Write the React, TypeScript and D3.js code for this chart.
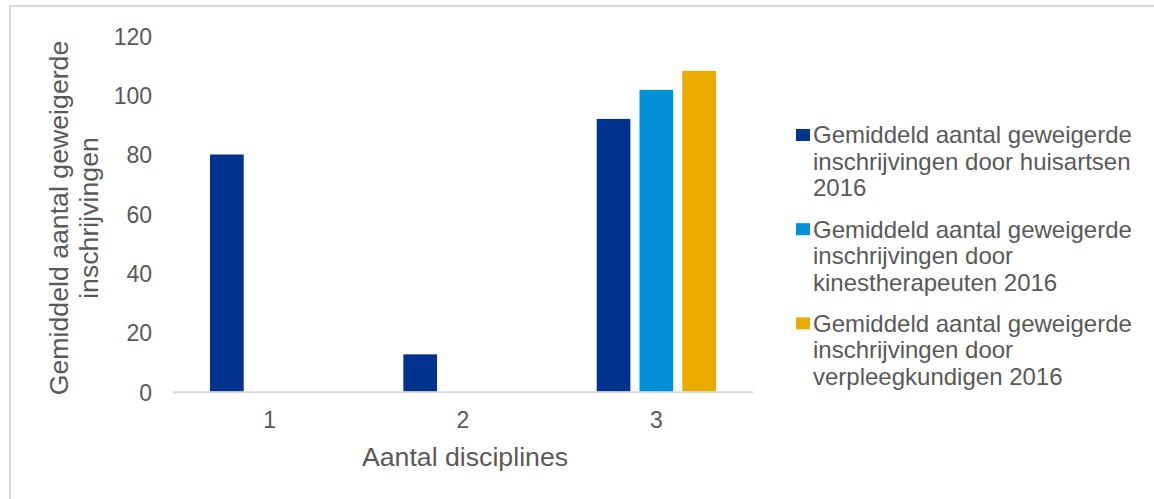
import React from "react";
import * as d3 from "d3";

const categories = ["1", "2", "3"];
const huisartsen: (number | null)[] = [80, 12.6, 92];
const kinesitherapeuten: (number | null)[] = [null, null, 101.8];
const verpleegkundigen: (number | null)[] = [null, null, 108.2];
const yTicks = [0, 20, 40, 60, 80, 100, 120];

const seriesNames = [
  ["Gemiddeld aantal geweigerde", "inschrijvingen door huisartsen", "2016"],
  ["Gemiddeld aantal geweigerde", "inschrijvingen door", "kinestherapeuten 2016"],
  ["Gemiddeld aantal geweigerde", "inschrijvingen door", "verpleegkundigen 2016"],
];
const seriesColors = ["#00338D", "#0091DA", "#EAAA00"];
const seriesValues = [huisartsen, kinesitherapeuten, verpleegkundigen];

const FONT = "'Liberation Sans', Arial, sans-serif";
const TEXT = "#595959";

export default function App() {
  const W = 1154;
  const H = 499;
  const plot = { left: 173, right: 753, top: 35.9, bottom: 391.7 };

  const x0 = d3
    .scaleBand<string>()
    .domain(categories)
    .range([plot.left, plot.right])
    .paddingInner(0.383)
    .paddingOuter(0.1915);
  const x1 = d3
    .scaleBand<number>()
    .domain([0, 1, 2])
    .range([0, x0.bandwidth()])
    .paddingInner(0.213)
    .paddingOuter(0);
  const y = d3.scaleLinear().domain([0, 120]).range([plot.bottom, plot.top]);

  const bars: React.ReactNode[] = [];
  seriesValues.forEach((vals, si) => {
    vals.forEach((v, ci) => {
      if (v == null) return;
      const xb = (x0(categories[ci]) ?? 0) + (x1(si) ?? 0);
      bars.push(
        <rect
          key={`b${si}-${ci}`}
          x={xb}
          y={y(v)}
          width={x1.bandwidth()}
          height={y(0) - y(v)}
          fill={seriesColors[si]}
        />
      );
    });
  });

  const legendX = 796;
  const legendTextX = 813;
  const legendTop = 143.3;
  const groupGap = 94.2;
  const lineH = 26.5;

  return (
    <svg
      width={W}
      height={H}
      style={{ position: "absolute", left: 0, top: 0, background: "#fff" }}
      fontFamily={FONT}
    >
      <rect x={0} y={0} width={W} height={H} fill="#fff" />
      <rect
        x={10}
        y={6}
        width={W + 50}
        height={H + 50}
        fill="none"
        stroke="#d9d9d9"
        strokeWidth={2}
      />
      {/* y tick labels */}
      {yTicks.map((t) => (
        <text
          key={`yt${t}`}
          x={152}
          y={y(t) + 0.8}
          textAnchor="end"
          dominantBaseline="central"
          fontSize={23}
          fill={TEXT}
        >
          {t}
        </text>
      ))}
      {bars}
      {/* x axis line */}
      <line
        x1={plot.left}
        x2={plot.right}
        y1={y(0) + 0.5}
        y2={y(0) + 0.5}
        stroke="#d9d9d9"
        strokeWidth={2}
      />
      {/* x tick labels */}
      {categories.map((c) => (
        <text
          key={`xt${c}`}
          x={(x0(c) ?? 0) + x0.bandwidth() / 2}
          y={428}
          textAnchor="middle"
          fontSize={23}
          fill={TEXT}
        >
          {c}
        </text>
      ))}
      {/* x axis title */}
      <text
        x={(plot.left + plot.right) / 2 + 2}
        y={466}
        textAnchor="middle"
        fontSize={26.7}
        fill={TEXT}
      >
        Aantal disciplines
      </text>
      {/* y axis title */}
      <g transform="translate(68,218) rotate(-90)">
        <text x={0} y={0} textAnchor="middle" fontSize={26.7} fill={TEXT}>
          Gemiddeld aantal geweigerde
        </text>
      </g>
      <g transform="translate(97.5,218) rotate(-90)">
        <text x={0} y={0} textAnchor="middle" fontSize={26.7} fill={TEXT}>
          inschrijvingen
        </text>
      </g>
      {/* legend */}
      {seriesNames.map((lines, si) => {
        const base = legendTop + si * groupGap;
        return (
          <g key={`lg${si}`}>
            <rect
              x={legendX}
              y={base - 14.3}
              width={14}
              height={12}
              fill={seriesColors[si]}
            />
            {lines.map((ln, li) => (
              <text
                key={li}
                x={legendTextX}
                y={base + li * lineH}
                fontSize={24}
                fill={TEXT}
              >
                {ln}
              </text>
            ))}
          </g>
        );
      })}
    </svg>
  );
}
